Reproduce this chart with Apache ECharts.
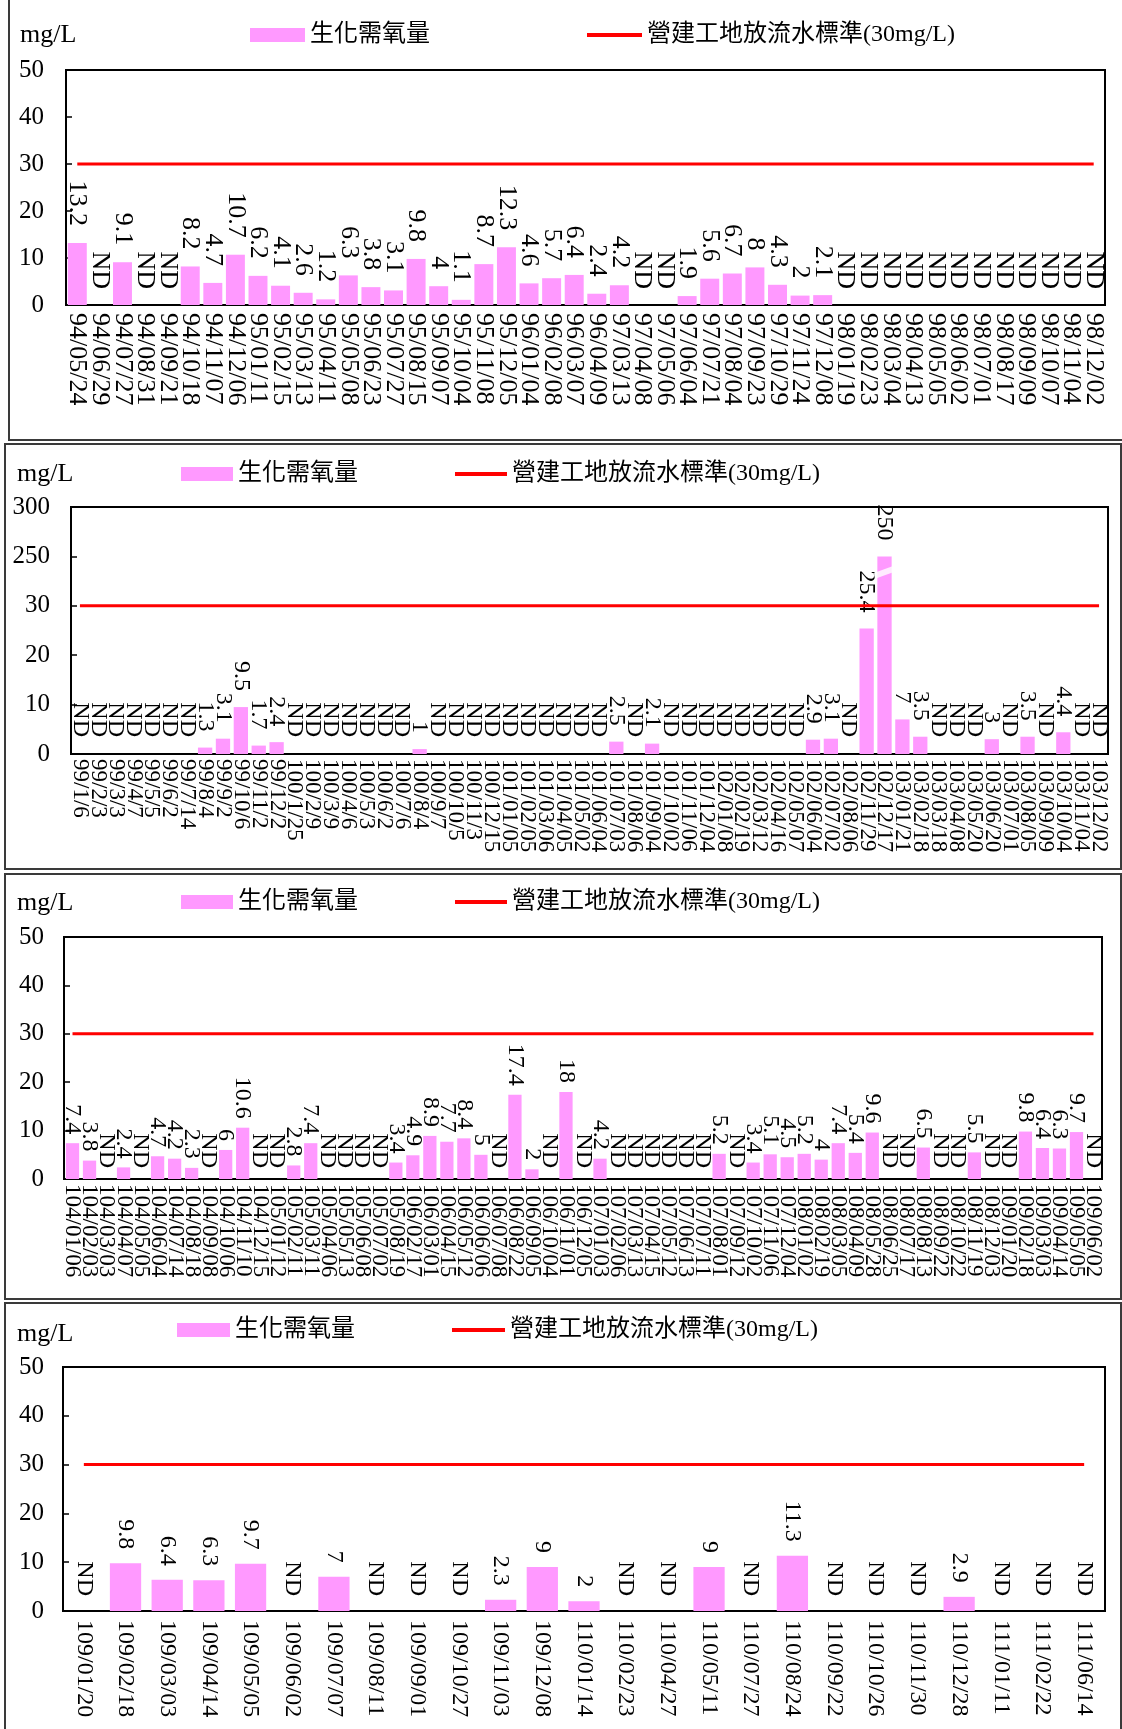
<!DOCTYPE html>
<html><head><meta charset="utf-8">
<script src="https://cdn.jsdelivr.net/npm/echarts@6/dist/echarts.min.js"></script>
<style>
html,body{margin:0;padding:0;background:#fff;width:1122px;height:1729px;overflow:hidden;position:relative}
.frame{position:absolute;border:2px solid #3a3a3a;box-sizing:border-box}
.chart{position:absolute;left:0;width:1122px}
</style></head><body>
<div class="frame" style="left:8px;top:-4px;width:1116px;height:445px"></div>
<div class="frame" style="left:4px;top:443px;width:1118px;height:427px"></div>
<div class="frame" style="left:4px;top:873px;width:1118px;height:427px"></div>
<div class="frame" style="left:4px;top:1302px;width:1118px;height:440px"></div>
<div id="c1" class="chart" style="top:0px;height:440px"></div>
<div id="c2" class="chart" style="top:444px;height:425px"></div>
<div id="c3" class="chart" style="top:874px;height:425px"></div>
<div id="c4" class="chart" style="top:1303px;height:426px"></div>
<script>
const barName = '生化需氧量';
const lineName = '營建工地放流水標準(30mg/L)';
const standardLimit = 30;

const p1Dates = ['94/05/24','94/06/29','94/07/27','94/08/31','94/09/21','94/10/18','94/11/07','94/12/06','95/01/11','95/02/15','95/03/13','95/04/11','95/05/08','95/06/23','95/07/27','95/08/15','95/09/07','95/10/04','95/11/08','95/12/05','96/01/04','96/02/08','96/03/07','96/04/09','97/03/13','97/04/08','97/05/06','97/06/04','97/07/21','97/08/04','97/09/23','97/10/29','97/11/24','97/12/08','98/01/19','98/02/23','98/03/04','98/04/13','98/05/05','98/06/02','98/07/01','98/08/17','98/09/09','98/10/07','98/11/04','98/12/02'];
const p1BOD = [13.2,'ND',9.1,'ND','ND',8.2,4.7,10.7,6.2,4.1,2.6,1.2,6.3,3.8,3.1,9.8,4,1.1,8.7,12.3,4.6,5.7,6.4,2.4,4.2,'ND','ND',1.9,5.6,6.7,8,4.3,2,2.1,'ND','ND','ND','ND','ND','ND','ND','ND','ND','ND','ND','ND'];
const p1YTicks = ['0','10','20','30','40','50'];

const p2Dates = ['99/1/6','99/2/3','99/3/3','99/4/7','99/5/5','99/6/2','99/7/14','99/8/4','99/9/2','99/10/6','99/11/2','99/12/2','100/1/25','100/2/9','100/3/9','100/4/6','100/5/3','100/6/2','100/7/6','100/8/4','100/9/7','100/10/5','100/11/3','100/12/15','101/01/05','101/02/05','101/03/06','101/04/05','101/05/02','101/06/04','101/07/03','101/08/06','101/09/04','101/10/02','101/11/06','101/12/04','102/01/08','102/02/19','102/03/12','102/04/16','102/05/07','102/06/04','102/07/02','102/08/06','102/11/29','102/12/17','103/01/21','103/02/18','103/03/18','103/04/08','103/05/20','103/06/20','103/07/01','103/08/05','103/09/09','103/10/04','103/11/04','103/12/02'];
const p2BOD = ['ND','ND','ND','ND','ND','ND','ND',1.3,3.1,9.5,1.7,2.4,'ND','ND','ND','ND','ND','ND','ND',1,'ND','ND','ND','ND','ND','ND','ND','ND','ND','ND',2.5,'ND',2.1,'ND','ND','ND','ND','ND','ND','ND','ND',2.9,3.1,'ND',25.4,250,7,3.5,'ND','ND','ND',3,'ND',3.5,'ND',4.4,'ND','ND'];
const p2YTicks = ['0','10','20','30','250','300'];

const p3Dates = ['104/01/06','104/02/03','104/03/03','104/04/07','104/05/05','104/06/04','104/07/14','104/08/18','104/09/08','104/10/06','104/11/10','104/12/15','105/01/12','105/02/11','105/03/11','105/04/06','105/05/13','105/06/08','105/07/02','105/08/19','106/02/17','106/03/01','106/04/15','106/05/12','106/06/06','106/07/08','106/08/22','106/09/05','106/10/04','106/11/01','106/12/05','107/01/03','107/02/06','107/03/13','107/04/15','107/05/12','107/06/13','107/07/11','107/08/01','107/09/12','107/10/02','107/11/06','107/12/04','108/01/02','108/02/19','108/03/05','108/04/09','108/05/28','108/06/25','108/07/17','108/08/13','108/09/22','108/10/22','108/11/19','108/12/03','109/01/20','109/02/18','109/03/03','109/04/14','109/05/05','109/06/02'];
const p3BOD = [7.4,3.8,'ND',2.4,'ND',4.7,4.2,2.3,'ND',6,10.6,'ND','ND',2.8,7.4,'ND','ND','ND','ND',3.4,4.9,8.9,7.7,8.4,5,'ND',17.4,2,'ND',18,'ND',4.2,'ND','ND','ND','ND','ND','ND',5.2,'ND',3.4,5.1,4.5,5.2,4,7.4,5.4,9.6,'ND','ND',6.5,'ND','ND',5.5,'ND','ND',9.8,6.4,6.3,9.7,'ND'];
const p3YTicks = ['0','10','20','30','40','50'];

const p4Dates = ['109/01/20','109/02/18','109/03/03','109/04/14','109/05/05','109/06/02','109/07/07','109/08/11','109/09/01','109/10/27','109/11/03','109/12/08','110/01/14','110/02/23','110/04/27','110/05/11','110/07/27','110/08/24','110/09/22','110/10/26','110/11/30','110/12/28','111/01/11','111/02/22','111/06/14'];
const p4BOD = ['ND',9.8,6.4,6.3,9.7,'ND',7,'ND','ND','ND',2.3,9,2,'ND','ND',9,'ND',11.3,'ND','ND','ND',2.9,'ND','ND','ND'];
const p4YTicks = ['0','10','20','30','40','50'];

const FONT = "'Liberation Serif','Times New Roman','Noto Sans CJK TC',serif";
const PINK = '#FF99FF';

// panel 2 uses a broken axis: 0-30 linear, then 250 and 300 one step each
function brokenScale(v){ return v <= 30 ? v : 40 + (v - 250) / 5; }

function build(id, o){
  const chart = echarts.init(document.getElementById(id), null, {renderer:'canvas'});
  const scale = o.scale || (v => v);
  const barData = o.values.map(v => v === 'ND'
    ? {value: 0, label: {formatter: 'ND', distance: o.ndDist}}
    : {value: scale(v), label: {formatter: String(v)}});
  const series = [
    {name: barName, type:'bar', data: barData, barCategoryGap: o.gap,
     itemStyle:{color: PINK},
     label:{show:true, position:'top', rotate:-90, align:'right', verticalAlign:'middle',
            distance:o.valDist, fontSize:o.valFont, fontFamily:FONT, color:'#000'}},
    {name: lineName, type:'line', data: o.dates.map(() => standardLimit), symbol:'none', showSymbol:false,
     lineStyle:{color:'#FF0000', width:3}, itemStyle:{color:'#FF0000'}, z:5, silent:true}
  ];
  if (o.breakAt !== undefined) {
    series.push({type:'scatter', data:[[o.dates[o.breakAt], 36.8]], symbol:'rect',
      symbolSize:[22,6], symbolRotate:20, itemStyle:{color:'#fff'}, z:4, silent:true});
  }
  chart.setOption({
    animation:false,
    title:{text:'mg/L', left:o.titleLeft, top:o.titleTop,
      textStyle:{fontSize:26, fontWeight:'normal', fontFamily:FONT, color:'#000'}},
    legend:{left:o.legLeft, top:o.legTop, itemWidth:o.legW, itemHeight:14, itemGap:o.legGap,
      textStyle:{fontSize:24, fontFamily:FONT, color:'#000'},
      data:[{name:barName, icon:'rect'},
            {name:lineName, itemStyle:{opacity:0}, lineStyle:{color:'#FF0000', width:4}}]},
    grid:{left:o.grid[0], right:o.grid[1], top:o.grid[2], bottom:o.grid[3], show:true,
      borderColor:'#000', borderWidth:2, outerBoundsMode:'none', containLabel:false},
    xAxis:{type:'category', data:o.dates,
      axisLine:{lineStyle:{color:'#000', width:2}}, axisTick:{show:false},
      axisLabel:{interval:0, rotate:-90, fontSize:o.xFont, fontFamily:FONT, color:'#000', margin:o.xMargin}},
    yAxis:{type:'value', min:0, max:50, interval:10, splitLine:{show:false},
      axisLine:{show:true, lineStyle:{color:'#000', width:2}},
      axisTick:{show:true, inside:true, length:6, lineStyle:{color:'#000', width:1.5}},
      axisLabel:{fontSize:25, fontFamily:FONT, color:'#000', margin:o.yMargin,
        formatter: v => o.yTicks[Math.round(v/10)]}},
    series
  });
}

build('c1', {dates:p1Dates, values:p1BOD, yTicks:p1YTicks, gap:'16%',
  grid:[66,17,70,135], titleLeft:15, titleTop:17, legLeft:245, legTop:18, legW:55, legGap:155,
  xFont:26, xMargin:8, valFont:26, valDist:17, ndDist:16, yMargin:22});
build('c2', {dates:p2Dates, values:p2BOD, yTicks:p2YTicks, gap:'20%', scale:brokenScale,
  breakAt:p2BOD.indexOf(250),
  grid:[71,14,63,115], titleLeft:12, titleTop:12, legLeft:176, legTop:13, legW:52, legGap:95,
  xFont:23, xMargin:5, valFont:24, valDist:16, ndDist:17, yMargin:21});
build('c3', {dates:p3Dates, values:p3BOD, yTicks:p3YTicks, gap:'22%',
  grid:[64,20,63,120], titleLeft:12, titleTop:11, legLeft:176, legTop:11, legW:52, legGap:95,
  xFont:23, xMargin:5, valFont:24, valDist:9, ndDist:11, yMargin:20});
build('c4', {dates:p4Dates, values:p4BOD, yTicks:p4YTicks, gap:'25%',
  grid:[63,17,64,118], titleLeft:12, titleTop:13, legLeft:172, legTop:10, legW:53, legGap:95,
  xFont:24, xMargin:9, valFont:24, valDist:14, ndDist:15, yMargin:19});
</script>
</body></html>
